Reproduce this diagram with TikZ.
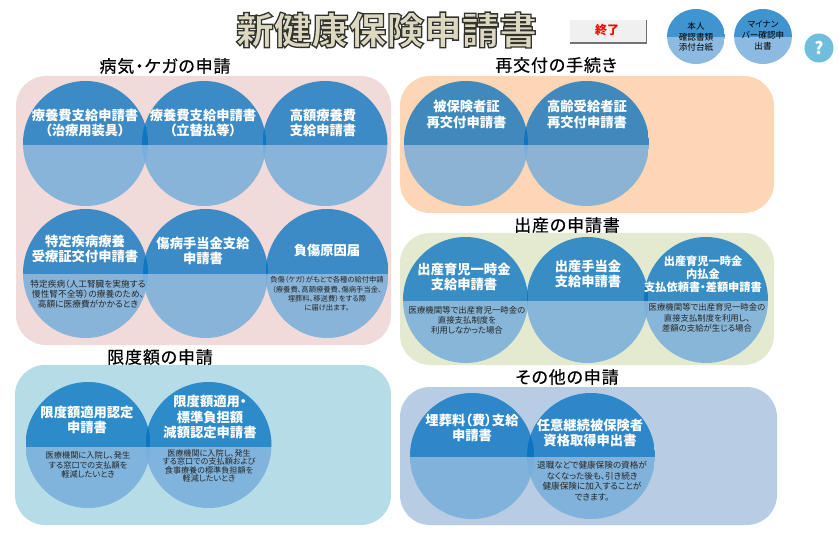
\documentclass[tikz,border=0pt]{standalone}
\usepackage{fontspec}
\setmainfont[RawFeature=+palt]{Noto Sans CJK JP}
\newfontfamily\headfont[RawFeature=+palt, FakeBold=0.4, LetterSpace=5]{Noto Sans CJK JP}
\usetikzlibrary{positioning}

\definecolor{panelpink}{RGB}{240,218,218}
\definecolor{panelsky}{RGB}{182,220,232}
\definecolor{panelpeach}{RGB}{252,214,181}
\definecolor{panelgreen}{RGB}{227,234,208}
\definecolor{panelnavy}{RGB}{184,204,228}
\definecolor{disctopblue}{RGB}{0,112,192}
\definecolor{discbotblue}{RGB}{120,174,218}
\definecolor{titlefill}{RGB}{221,216,194}
\definecolor{helpblue}{RGB}{111,190,222}
\definecolor{buttongrey}{RGB}{240,240,240}

\tikzset{
    panel/.style={rounded corners=30pt},
    disctop/.style={fill=disctopblue, fill opacity=0.75},
    discbot/.style={fill=discbotblue, fill opacity=0.85},
    heading/.style={text=black, font=\headfont\fontsize{17}{18}\selectfont, inner sep=0pt},
    biglabel/.style={text=white, align=center, inner sep=0pt, font=\fontsize{13.3}{15.6}\selectfont\bfseries},
    midlabel/.style={text=white, align=center, inner sep=0pt, font=\fontsize{11.2}{13}\selectfont\bfseries},
    smalllabel/.style={text=black!85, align=center, inner sep=0pt, font=\fontsize{8.7}{10.2}\selectfont},
    tinylabel/.style={text=black!85, align=center, inner sep=0pt, font=\fontsize{7.3}{9.4}\selectfont},
    iconlabel/.style={text=black, align=center, inner sep=0pt, font=\fontsize{8.6}{10.8}\selectfont}
}

% cx, cy, x radius, y radius, height of the split
\newcommand{\halfdisc}[5]{
    \begin{scope}
        \clip (#1,#2) ellipse [x radius=#3, y radius=#4];
        \fill[disctop] (#1-#3,#2-#4) rectangle (#1+#3,#5);
        \fill[discbot] (#1-#3,#5) rectangle (#1+#3,#2+#4);
    \end{scope}
}

\begin{document}
\begin{tikzpicture}[x=1pt, y=-1pt]
    \useasboundingbox (0,0) rectangle (838,537);

    \node[inner sep=0pt, font=\fontsize{37.6}{40}\selectfont\bfseries] (title) at (386.5,30) {\textcolor{titlefill}{\special{pdf:code 2 Tr 1.3 w 0.2 0.2 0.18 RG}新健康保険申請書\special{pdf:code 0 Tr 0 w}}};

    % end button
    \fill[black!55] (570,20) rectangle (647,44);
    \fill[buttongrey] (570,20) rectangle (645.5,42.5);
    \node[text=red, inner sep=0pt, font=\fontsize{12}{14}\selectfont\bfseries] (quit) at (607,30.5) {終了};

    % small discs at the top
    \halfdisc{696}{36.5}{29}{27.5}{37}
    \halfdisc{763}{36.5}{29}{27.5}{37}
    \node[iconlabel] (idform) at (696,37) {本人\\確認書類\\添付台紙};
    \node[iconlabel] (mynumber) at (763,35.5) {マイナン\\バー確認申\\出書};
    \fill[helpblue] (819,48) circle [radius=14.5];
    \node[text=white, inner sep=0pt, font=\fontsize{17}{19}\selectfont\bfseries] (help) at (819,48) {?};

    % panels
    \fill[panel, panelpink] (16,76) rectangle (391,345);
    \fill[panel, panelsky] (15,365) rectangle (391,525);
    \fill[panel, panelpeach] (400,76) rectangle (774,213);
    \fill[panel, panelgreen] (400,233) rectangle (774,365);
    \fill[panel, panelnavy] (400,387) rectangle (777,525);

    \node[heading] (illness) at (165,66) {病気・ケガの申請};
    \node[heading] (limit) at (160,357) {限度額の申請};
    \node[heading] (reissue) at (556,65) {再交付の手続き};
    \node[heading] (birth) at (567,225) {出産の申請書};
    \node[heading] (other) at (567,377) {その他の申請};

    % discs, illness
    \halfdisc{85.5}{143.5}{62.5}{62.5}{145}
    \halfdisc{204}{143.5}{62}{62.5}{145}
    \halfdisc{325}{143.5}{62.5}{62.5}{145}
    \halfdisc{85.5}{273.5}{62.5}{64.5}{274}
    \halfdisc{205.5}{273.5}{62.5}{64.5}{274}
    \halfdisc{327}{273.5}{61.5}{64.5}{274}
    % discs, limit
    \halfdisc{88}{445}{62.5}{63}{447}
    \halfdisc{208.5}{445}{63}{63}{447}
    % discs, reissue
    \halfdisc{466}{143.5}{62}{62.5}{145}
    \halfdisc{586.5}{143.5}{62.5}{62.5}{145}
    % discs, birth
    \halfdisc{465.5}{300}{62.5}{63}{301}
    \halfdisc{587.5}{300}{61}{63}{301}
    \halfdisc{706}{300}{62}{63}{301}
    % discs, other
    \halfdisc{472}{456}{62}{63}{457}
    \halfdisc{591}{456}{64}{63}{457}

    \node[biglabel] (cureA) at (85,123) {療養費支給申請書\\（治療用装具）};
    \node[biglabel] (cureB) at (203,123) {療養費支給申請書\\（立替払等）};
    \node[biglabel] (highcost) at (323,123) {高額療養費\\支給申請書};
    \node[biglabel] (disease) at (85,249) {特定疾病療養\\受療証交付申請書};
    \node[biglabel] (sickpay) at (203,251) {傷病手当金支給\\申請書};
    \node[biglabel] (injury) at (327,250) {負傷原因届};
    \node[smalllabel] (diseasenote) at (88,294) {特定疾病（人工腎臓を実施する\\慢性腎不全等）の療養のため、\\高額に医療費がかかるとき};
    \node[tinylabel] (injurynote) at (327,294) {負傷（ケガ）がもとで各種の給付申請\\（療養費、高額療養費、傷病手当金、\\埋葬料、移送費）をする際\\に届け出ます。};

    \node[biglabel] (limitA) at (87,420) {限度額適用認定\\申請書};
    \node[biglabel] (limitB) at (210,417) {限度額適用・\\標準負担額\\減額認定申請書};
    \node[smalllabel, font=\fontsize{8.2}{9.6}\selectfont] (limitAnote) at (88,465) {医療機関に入院し、発生\\する窓口での支払額を\\軽減したいとき};
    \node[smalllabel, font=\fontsize{8.1}{8.6}\selectfont] (limitBnote) at (209,466) {医療機関に入院し、発生\\する窓口での支払額および\\食事療養の標準負担額を\\軽減したいとき};

    \node[biglabel] (insured) at (466.5,114.5) {被保険者証\\再交付申請書};
    \node[biglabel] (elderly) at (587,114.5) {高齢受給者証\\再交付申請書};

    \node[biglabel] (lumpsum) at (464,277) {出産育児一時金\\支給申請書};
    \node[biglabel] (maternity) at (588,274) {出産手当金\\支給申請書};
    \node[midlabel] (advance) at (703,274) {出産育児一時金\\内払金\\支払依頼書・差額申請書};
    \node[smalllabel, font=\fontsize{8.4}{10.3}\selectfont] (lumpsumnote) at (467,320.5) {医療機関等で出産育児一時金の\\直接支払制度を\\利用しなかった場合};
    \node[smalllabel, font=\fontsize{8.4}{10.3}\selectfont] (advancenote) at (707,318) {医療機関等で出産育児一時金の\\直接支払制度を利用し、\\差額の支給が生じる場合};

    \node[biglabel] (burial) at (472,428) {埋葬料（費）支給\\申請書};
    \node[biglabel] (voluntary) at (590,433) {任意継続被保険者\\資格取得申出書};
    \node[smalllabel, font=\fontsize{8.6}{10.7}\selectfont] (voluntarynote) at (592,481) {退職などで健康保険の資格が\\なくなった後も、引き続き\\健康保険に加入することが\\できます。};
\end{tikzpicture}
\end{document}
